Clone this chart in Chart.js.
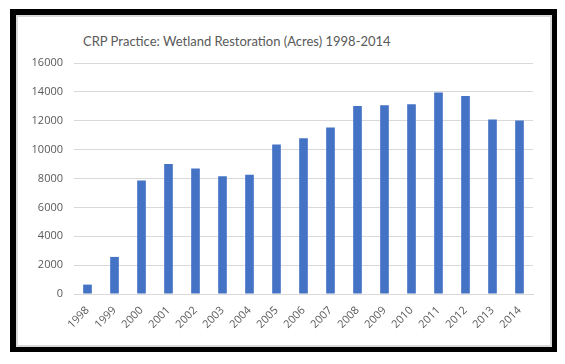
<!DOCTYPE html>
<html>
<head>
<meta charset="utf-8">
<script src="https://cdn.jsdelivr.net/npm/chart.js@4/dist/chart.umd.min.js"></script>
<style>
  html, body { margin: 0; padding: 0; background: #fff; }
  body { width: 565px; height: 364px; position: relative; overflow: hidden; }
  #frame {
    position: absolute; left: 10px; top: 9px; width: 547px; height: 343px;
    box-sizing: border-box; border: 6px solid #000; border-right-width: 5px; border-bottom-width: 5px;
  }
  #inner {
    position: absolute; left: 0; top: 0; right: 0; bottom: 0;
    border: 2px solid #d9d9d9; background: #fff;
  }
  #title {
    position: absolute; left: 83px; top: 33px;
    font: 13px Lato, sans-serif; color: #595959; white-space: nowrap;
  }
  #wrap { position: absolute; left: 18px; top: 17px; width: 531px; height: 327px; }
</style>
</head>
<body>
<div id="frame"><div id="inner"></div></div>
<div id="title">CRP Practice: Wetland Restoration (Acres) 1998-2014</div>
<div id="wrap"><canvas id="barChart"></canvas></div>
<script>
// Years on the x axis
const years = ['1998', '1999', '2000', '2001', '2002', '2003', '2004', '2005', '2006',
               '2007', '2008', '2009', '2010', '2011', '2012', '2013', '2014'];

// Acres of wetland restoration
const acres = [650, 2570, 7870, 9000, 8700, 8150, 8260, 10350, 10780,
               11530, 13030, 13070, 13150, 13960, 13720, 12080, 12010];

const yMin = 0;
const yMax = 16000;
const yStep = 2000;

const ctx = document.getElementById('barChart').getContext('2d');

const barChart = new Chart(ctx, {
    type: 'bar',
    data: {
        labels: years,
        datasets: [{
            label: 'Acres',
            data: acres,
            backgroundColor: '#4472C4',
            borderWidth: 0,
            categoryPercentage: 0.32,
            barPercentage: 1
        }]
    },
    options: {
        responsive: true,
        maintainAspectRatio: false,
        animation: false,
        layout: { padding: { top: 46, right: 16, left: 0, bottom: 0 } },
        plugins: {
            legend: { display: false },
            tooltip: { enabled: false }
        },
        scales: {
            x: {
                grid: { display: false },
                border: { color: '#d9d9d9', width: 1 },
                ticks: {
                    color: '#595959',
                    font: { family: 'Open Sans', size: 11 },
                    minRotation: 45,
                    maxRotation: 45,
                    padding: 2
                },
                afterFit: (scale) => { scale.height = 50; }
            },
            y: {
                min: yMin,
                max: yMax,
                border: { display: false },
                grid: { color: '#d9d9d9', drawTicks: false },
                ticks: {
                    stepSize: yStep,
                    color: '#595959',
                    font: { family: 'Open Sans', size: 11 },
                    padding: 11,
                    callback: (value) => String(value)
                },
                afterFit: (scale) => { scale.width = 56; }
            }
        }
    }
});
</script>
</body>
</html>
